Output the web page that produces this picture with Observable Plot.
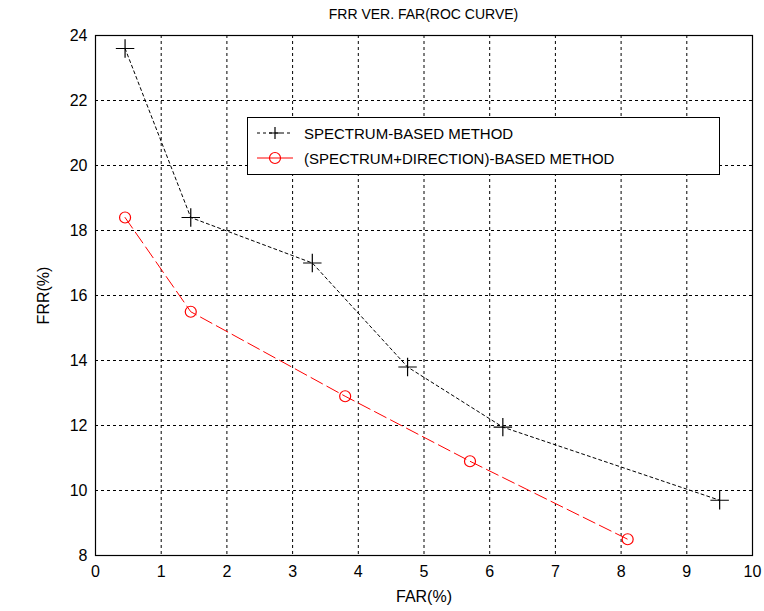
<!DOCTYPE html>
<html>
<head>
<meta charset="utf-8">
<script src="https://cdn.jsdelivr.net/npm/d3@7"></script>
<script src="https://cdn.jsdelivr.net/npm/@observablehq/plot@0.6"></script>
<style>
  html, body { margin: 0; padding: 0; background: #fff; }
  #wrap { position: relative; width: 764px; height: 611px; font-family: "Liberation Sans", Arial, sans-serif; }
  #title { height: 28px; line-height: 28px; text-align: center; padding-left: 95px; padding-right: 12px; font-size: 14px; color: #000; }
  #legend { position: absolute; left: 247px; top: 117px; width: 471px; height: 56px; border: 1px solid #000; background: #fff; font-size: 15px; }
  .row { position: absolute; left: 0; height: 20px; display: flex; align-items: center; }
  .row svg { margin-left: 8px; margin-right: 10px; }
</style>
</head>
<body>
<div id="wrap">
  <div id="title">FRR VER. FAR(ROC CURVE)</div>
  <div id="chart"></div>
  <div id="legend"></div>
</div>
<script>
const seriesNames = ["SPECTRUM-BASED METHOD", "(SPECTRUM+DIRECTION)-BASED METHOD"];
const spectrumFAR = [0.45, 1.45, 3.3, 4.75, 6.2, 9.5];
const spectrumFRR = [23.6, 18.4, 17.0, 13.8, 11.95, 9.7];
const combinedFAR = [0.45, 1.45, 3.8, 5.7, 8.1];
const combinedFRR = [18.4, 15.5, 12.9, 10.9, 8.5];
const xTicks = [0, 1, 2, 3, 4, 5, 6, 7, 8, 9, 10];
const yTicks = [8, 10, 12, 14, 16, 18, 20, 22, 24];

const s1 = spectrumFAR.map((x, i) => ({x, y: spectrumFRR[i]}));
const s2 = combinedFAR.map((x, i) => ({x, y: combinedFRR[i]}));

const chart = Plot.plot({
  width: 764,
  height: 583,
  marginLeft: 95,
  marginRight: 12,
  marginTop: 7,
  marginBottom: 56,
  style: { fontFamily: "Liberation Sans, Arial, sans-serif", fontSize: "15px", background: "#fff", color: "#000" },
  x: { domain: [0, 10] },
  y: { domain: [8, 24] },
  marks: [
    Plot.gridX(xTicks, { stroke: "#000", strokeOpacity: 1, strokeDasharray: "3,3", strokeWidth: 1 }),
    Plot.gridY(yTicks, { stroke: "#000", strokeOpacity: 1, strokeDasharray: "3,3", strokeWidth: 1 }),
    Plot.axisX(xTicks, { tickSize: 0, tickPadding: 10, fontSize: 16, label: "FAR(%)", labelAnchor: "center", labelArrow: "none", labelOffset: 46 }),
    Plot.axisY(yTicks, { tickSize: 0, tickPadding: 8, fontSize: 16, label: "FRR(%)", labelAnchor: "center", labelArrow: "none", labelOffset: 58 }),
    Plot.line(s1, { x: "x", y: "y", stroke: "#000", strokeWidth: 1, strokeDasharray: "3,3" }),
    Plot.line(s2, { x: "x", y: "y", stroke: "#f00", strokeWidth: 1, strokeDasharray: "13,5" }),
    Plot.dot(s1, { x: "x", y: "y", symbol: "plus", r: 6, stroke: "#000", strokeWidth: 1.2 }),
    Plot.dot(s2, { x: "x", y: "y", symbol: "circle", r: 5.5, stroke: "#f00", fill: "none", strokeWidth: 1.2 }),
    Plot.frame({ stroke: "#000", strokeWidth: 1.2 })
  ]
});
document.getElementById("chart").appendChild(chart);

// Legend
const legend = document.getElementById("legend");
const styles = [
  { stroke: "#000", dash: "3,3", symbol: "plus" },
  { stroke: "#f00", dash: "none", symbol: "circle" }
];
seriesNames.forEach((name, i) => {
  const row = document.createElement("div");
  row.className = "row";
  row.style.top = (5 + i * 25) + "px";
  const st = styles[i];
  const ns = "http://www.w3.org/2000/svg";
  const svg = document.createElementNS(ns, "svg");
  svg.setAttribute("width", 38);
  svg.setAttribute("height", 20);
  const ln = document.createElementNS(ns, "line");
  ln.setAttribute("x1", 1); ln.setAttribute("x2", 37); ln.setAttribute("y1", 10); ln.setAttribute("y2", 10);
  ln.setAttribute("stroke", st.stroke);
  if (st.dash !== "none") ln.setAttribute("stroke-dasharray", st.dash);
  svg.appendChild(ln);
  if (st.symbol === "plus") {
    const p = document.createElementNS(ns, "path");
    p.setAttribute("d", "M19,4V16M13,10H25");
    p.setAttribute("stroke", st.stroke); p.setAttribute("stroke-width", 1.2);
    svg.appendChild(p);
  } else {
    const c = document.createElementNS(ns, "circle");
    c.setAttribute("cx", 19); c.setAttribute("cy", 10); c.setAttribute("r", 5.5);
    c.setAttribute("stroke", st.stroke); c.setAttribute("fill", "none"); c.setAttribute("stroke-width", 1.2);
    svg.appendChild(c);
  }
  row.appendChild(svg);
  const t = document.createElement("span");
  t.textContent = name;
  row.appendChild(t);
  legend.appendChild(row);
});
</script>
</body>
</html>
